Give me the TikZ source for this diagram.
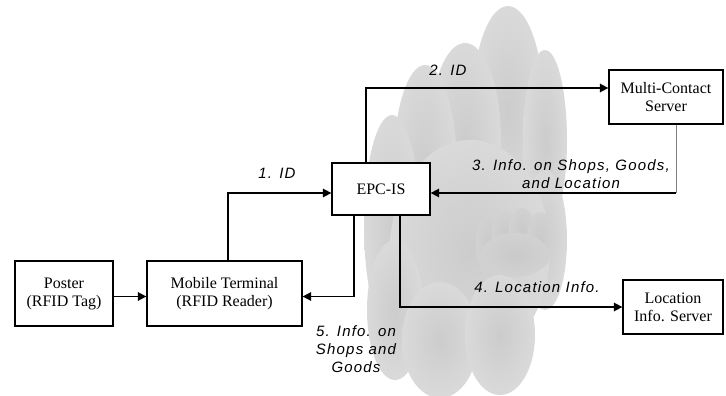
\documentclass[tikz,border=0pt]{standalone}
\usepackage{fontspec}
\setmainfont{Liberation Serif}
\newfontfamily\labelfont{Liberation Sans}[LetterSpace=8]
\usepackage{tikz}
\usetikzlibrary{arrows.meta,positioning,calc}
\pgfdeclareradialshading{puff}{\pgfpoint{0bp}{0bp}}{color(0bp)=(gray!40); color(35bp)=(gray!25); color(50bp)=(gray!12)}
\pgfdeclareradialshading{darkpuff}{\pgfpoint{0bp}{0bp}}{color(0bp)=(gray!42); color(35bp)=(gray!33); color(50bp)=(gray!22)}

\begin{document}
\begin{tikzpicture}[
    x=1pt, y=-1pt,
    box/.style={rectangle, draw, line width=1.3pt, align=center, inner sep=0pt, font=\fontsize{16}{18}\selectfont},
    arrow/.style={-{Triangle[length=8.5pt,width=8.5pt]}, line width=1.6pt},
    lbl/.style={align=center, inner sep=0pt, font=\labelfont\itshape\fontsize{15}{18}\selectfont}
]
    \useasboundingbox (0,0) rectangle (726,396);

    % Cloud
    \shade[shading=puff] (508,110) ellipse [x radius=36, y radius=104];
    \shade[shading=puff] (465,140) ellipse [x radius=36, y radius=97];
    \shade[shading=puff] (545,140) ellipse [x radius=22, y radius=90];
    \shade[shading=puff] (425,170) ellipse [x radius=32, y radius=105];
    \shade[shading=puff] (392,225) ellipse [x radius=28, y radius=110];
    \shade[shading=puff] (545,240) ellipse [x radius=22, y radius=70];
    \shade[shading=puff] (470,250) ellipse [x radius=80, y radius=110];
    \shade[shading=puff] (395,310) ellipse [x radius=28, y radius=70];
    \shade[shading=puff] (440,340) ellipse [x radius=38, y radius=58];
    \shade[shading=puff] (500,335) ellipse [x radius=35, y radius=60];
    % inner cloud
    \shade[shading=darkpuff] (490,245) ellipse [x radius=14, y radius=30];
    \shade[shading=darkpuff] (505,235) ellipse [x radius=13, y radius=24];
    \shade[shading=darkpuff] (522,230) ellipse [x radius=13, y radius=22];
    \shade[shading=darkpuff] (540,240) ellipse [x radius=13, y radius=28];
    \shade[shading=darkpuff] (515,255) ellipse [x radius=34, y radius=22];

    % Boxes
    \node[box, minimum width=98pt, minimum height=65pt] (poster) at (64,293.5) {Poster\\(RFID Tag)};
    \node[box, minimum width=155pt, minimum height=65pt] (mobile) at (224.5,293.5) {Mobile Terminal\\(RFID Reader)};
    \node[box, minimum width=98pt, minimum height=52pt, fill=white] (epc) at (381,189) {EPC-IS};
    \node[box, minimum width=114pt, minimum height=54pt, fill=white] (mcs) at (666,97) {Multi-Contact\\Server};
    \node[box, minimum width=100pt, minimum height=54pt, fill=white] (loc) at (673,307) {Location\\Info. Server};
    \coordinate (turn3) at (676,193);

    % Arrows
    \draw[arrow] ([yshift=-3pt]poster.east) -- ([yshift=-3pt]mobile.east -| mobile.west);
    \draw[arrow] ([xshift=3.5pt]mobile.north) |- ([yshift=-4pt]epc.west);
    \draw[arrow] ([xshift=-15pt]epc.north) |- ([yshift=9pt]mcs.west);
    \draw[gray, line width=0.8pt] (turn3) -- (turn3 |- mcs.south);
    \draw[arrow] (turn3) -- (turn3 -| epc.east);
    \draw[arrow] ([xshift=19pt]epc.south) |- (loc.west);
    \draw[arrow] ([xshift=-27pt]epc.south) |- ([yshift=-3pt]mobile.east);

    % Labels
    \node[lbl] (l1) at (277,173) {1. ID};
    \node[lbl] (l2) at (448,70) {2. ID};
    \node[lbl] (l3) at (571,174) {3. Info. on Shops, Goods,\\and Location};
    \node[lbl] (l4) at (537,287) {4. Location Info.};
    \node[lbl] (l5) at (356,349) {5. Info. on\\Shops and\\Goods};
\end{tikzpicture}
\end{document}
